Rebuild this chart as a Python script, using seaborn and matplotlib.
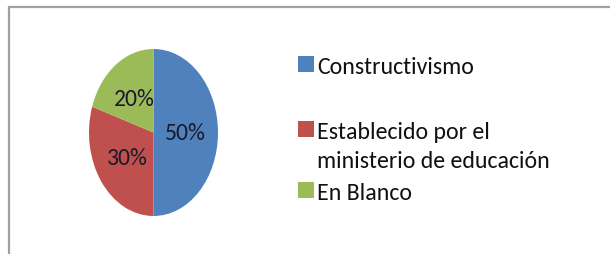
import matplotlib
matplotlib.use("Agg")
import matplotlib.pyplot as plt
import seaborn as sns
from matplotlib.patches import Patch, Rectangle

categories = ["Constructivismo", "Establecido por el\nministerio de educación", "En Blanco"]
values = [50, 30, 20]
colors = ["#4F81BD", "#C0504D", "#9BBB59"]

sns.set_theme(style="white")
plt.rcParams["font.family"] = ["Carlito", "Archivo Narrow", "DejaVu Sans"]

fig = plt.figure(figsize=(6.1, 2.55), dpi=100)
fig.patch.set_facecolor("white")

ax = fig.add_axes([89 / 610, 38 / 255, 129 / 610, 167 / 255])
wedges, _, autotexts = ax.pie(
    values, colors=colors, startangle=90, counterclock=False,
    autopct=lambda p: f"{p:.0f}%", pctdistance=0.5,
    wedgeprops=dict(linewidth=0),
    textprops=dict(fontsize=17, color="#1a1a2a"),
)
ax.set_aspect("auto")
ax.set_xlim(-1, 1)
ax.set_ylim(-1, 1)
ax.axis("off")

handles = [Patch(facecolor=c, edgecolor="none") for c in colors]
common = dict(frameon=False, fontsize=17.2, handlelength=0.66, handleheight=0.66,
              handletextpad=0.15, borderpad=0, borderaxespad=0, loc="upper left")

leg1 = fig.legend(handles[:1], categories[:1], bbox_to_anchor=(298 / 610, 1 - 57 / 255), **common)
leg2 = fig.legend(handles[1:], categories[1:], bbox_to_anchor=(298 / 610, 1 - 122 / 255),
                  labelspacing=0.42, **common)
for leg in (leg1, leg2):
    for col in leg._legend_handle_box.get_children():
        for item in col.get_children():
            item.align = "top"
    for t in leg.get_texts():
        t.set_color("#111111")
        t.set_linespacing(1.5)

# outer chart border (top and left visible)
fig.add_artist(Rectangle((8.5 / 610, -0.2), 1.2, 1.2 - 7.5 / 255,
                         transform=fig.transFigure, fill=False,
                         edgecolor="#A0A0A0", linewidth=1.6))

fig.savefig("out.png", dpi=100)
